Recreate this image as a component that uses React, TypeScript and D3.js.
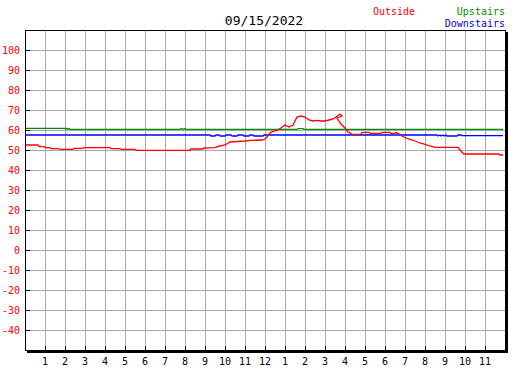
import * as d3 from 'd3'

const TITLE = '09/15/2022'
const SERIES_NAMES = ['Outside', 'Upstairs', 'Downstairs']
const SERIES_COLORS = ['#ff0000', '#008c00', '#0000ff']

// y ticks (degrees) and x tick labels (hour of day)
const Y_TICKS = [100, 90, 80, 70, 60, 50, 40, 30, 20, 10, 0, -10, -20, -30, -40]
const X_TICKS = [1, 2, 3, 4, 5, 6, 7, 8, 9, 10, 11, 12, 13, 14, 15, 16, 17, 18, 19, 20, 21, 22, 23]
const X_LABELS = ['1', '2', '3', '4', '5', '6', '7', '8', '9', '10', '11', '12', '1', '2', '3', '4', '5', '6', '7', '8', '9', '10', '11']

// outside temperature: hour, value
const outsideHours = [0, 0.65, 0.7, 0.95, 1.0, 1.25, 1.3, 1.7, 1.75, 2.4, 2.45, 2.9, 2.95, 4.25, 4.3, 4.75, 4.8, 5.5, 5.55, 8.25, 8.3, 8.9, 8.95, 9.5, 9.75, 10, 10.25, 11, 11.25, 11.85, 12, 12.1, 12.25, 12.4, 12.6, 12.8, 13, 13.2, 13.4, 13.6, 13.8, 14, 14.2, 14.4, 14.6, 14.8, 15, 15.2, 15.4, 15.55, 15.75, 15.85, 15.6, 15.8, 16, 16.15, 16.35, 16.8, 16.85, 17.2, 17.25, 17.8, 17.85, 18.25, 18.3, 18.5, 18.55, 18.65, 18.85, 19.05, 19.25, 19.5, 19.75, 20, 20.25, 20.5, 21.65, 21.8, 21.95, 23.7, 23.75, 23.9]
const outsideValues = [52.5, 52.5, 51.7, 51.7, 51.2, 51.2, 50.7, 50.7, 50.3, 50.3, 50.8, 50.8, 51.2, 51.2, 50.7, 50.7, 50.3, 50.3, 49.8, 49.8, 50.5, 50.5, 51, 51.2, 52, 52.5, 54, 54.5, 54.8, 55, 55.5, 56.5, 58.5, 59.3, 59.8, 61, 62.5, 61.5, 62.5, 66.5, 67, 66.5, 65, 64.5, 64.8, 64.5, 64.5, 65, 65.5, 66.5, 68, 67, 66, 63, 61, 59, 57.8, 57.8, 58.8, 58.8, 58.3, 58.3, 58.8, 58.8, 58.3, 58.3, 58.8, 58.3, 57, 56, 55.3, 54.5, 53.5, 52.8, 52, 51.3, 51.3, 49.5, 48, 48, 47.5, 47.5]

const upstairsHours = [0, 2.0, 2.05, 2.1, 2.15, 2.2, 2.25, 2.4, 7.75, 7.8, 7.9, 8.0, 8.05, 8.1, 13.6, 13.65, 13.9, 13.95, 23.9]
const upstairsValues = [60.8, 60.8, 60.4, 60.8, 60.4, 60.8, 60.3, 60.3, 60.3, 60.7, 60.3, 60.7, 60.3, 60.3, 60.3, 60.7, 60.7, 60.3, 60.3]

const downstairsHours = [0, 9.25, 9.3, 9.5, 9.55, 9.7, 9.75, 10.0, 10.05, 10.3, 10.35, 10.6, 10.65, 10.9, 10.95, 11.2, 11.25, 11.4, 11.45, 11.9, 11.95, 20.6, 20.65, 20.75, 20.8, 20.9, 20.95, 21.05, 21.1, 21.6, 21.65, 21.8, 21.85, 23.9]
const downstairsValues = [57.5, 57.5, 57, 57, 57.5, 57.5, 57, 57, 57.5, 57.5, 57, 57, 57.5, 57.5, 57, 57, 57.5, 57.5, 57, 57, 57.5, 57.5, 57, 57.5, 57, 57.5, 57, 57.5, 57, 57, 57.5, 57.5, 57.2, 57.2]

const LEFT = 25
const RIGHT = 505
const TOP = 30
const BOTTOM = 350

export default function App() {
  const x = d3.scaleLinear().domain([0, 24]).range([LEFT, RIGHT])
  const y = d3.scaleLinear().domain([-50, 110]).range([BOTTOM, TOP])

  const line = d3.line<[number, number]>()
    .x(d => x(d[0]))
    .y(d => y(d[1]))

  const zip = (hs: number[], vs: number[]) => hs.map((h, i) => [h, vs[i]] as [number, number])
  const series = [
    zip(outsideHours, outsideValues),
    zip(upstairsHours, upstairsValues),
    zip(downstairsHours, downstairsValues),
  ]
  const mono = "'DejaVu Sans Mono', monospace"

  return (
    <svg width={527} height={370} style={{ position: 'absolute', left: 0, top: 0, background: '#fff' }}>
      <rect x={0} y={0} width={527} height={370} fill="#fff" />

      {/* grid */}
      <g stroke="#a8a8a8" strokeWidth={1}>
        {Y_TICKS.map(t => (
          <line key={'gy' + t} x1={LEFT} x2={RIGHT} y1={Math.round(y(t)) + 0.5} y2={Math.round(y(t)) + 0.5} />
        ))}
        {X_TICKS.map(t => (
          <line key={'gx' + t} x1={Math.round(x(t)) + 0.5} x2={Math.round(x(t)) + 0.5} y1={TOP} y2={BOTTOM} />
        ))}
      </g>

      {/* ticks */}
      <g stroke="#000" strokeWidth={1}>
        {Y_TICKS.map(t => (
          <line key={'ty' + t} x1={LEFT} x2={LEFT + 5} y1={Math.round(y(t)) + 0.5} y2={Math.round(y(t)) + 0.5} />
        ))}
        {X_TICKS.map(t => (
          <line key={'tx' + t} x1={Math.round(x(t)) + 0.5} x2={Math.round(x(t)) + 0.5} y1={BOTTOM - 4} y2={BOTTOM} />
        ))}
      </g>

      {/* series */}
      <g fill="none" strokeWidth={1.3}>
        {[1, 2, 0].map(i => (
          <path key={SERIES_NAMES[i]} d={line(series[i]) || ''} stroke={SERIES_COLORS[i]} />
        ))}
      </g>

      {/* frame + shadow */}
      <rect x={LEFT + 0.5} y={TOP + 0.5} width={RIGHT - LEFT} height={BOTTOM - TOP} fill="none" stroke="#000" />
      <line x1={RIGHT + 2} x2={RIGHT + 2} y1={TOP + 2} y2={BOTTOM + 3} stroke="#000" strokeWidth={2} />
      <line x1={LEFT + 2} x2={RIGHT + 3} y1={BOTTOM + 2} y2={BOTTOM + 2} stroke="#000" strokeWidth={2} />

      {/* y labels */}
      <g fontFamily={mono} fontSize={10} fill="#ff0000" textAnchor="end">
        {Y_TICKS.map(t => (
          <text key={'ly' + t} x={LEFT - 5} y={y(t) + 4}>{t}</text>
        ))}
      </g>

      {/* x labels */}
      <g fontFamily={mono} fontSize={10} fill="#000" textAnchor="middle">
        {X_TICKS.map((t, i) => (
          <text key={'lx' + t} x={x(t)} y={365}>{X_LABELS[i]}</text>
        ))}
      </g>

      {/* title + legend */}
      <text x={264} y={25} fontFamily={mono} fontSize={13} textAnchor="middle" fill="#000">{TITLE}</text>
      <text x={373} y={15} fontFamily={mono} fontSize={10} fill={SERIES_COLORS[0]}>{SERIES_NAMES[0]}</text>
      <text x={505} y={15} fontFamily={mono} fontSize={10} textAnchor="end" fill={SERIES_COLORS[1]}>{SERIES_NAMES[1]}</text>
      <text x={505} y={27} fontFamily={mono} fontSize={10} textAnchor="end" fill={SERIES_COLORS[2]}>{SERIES_NAMES[2]}</text>
    </svg>
  )
}
